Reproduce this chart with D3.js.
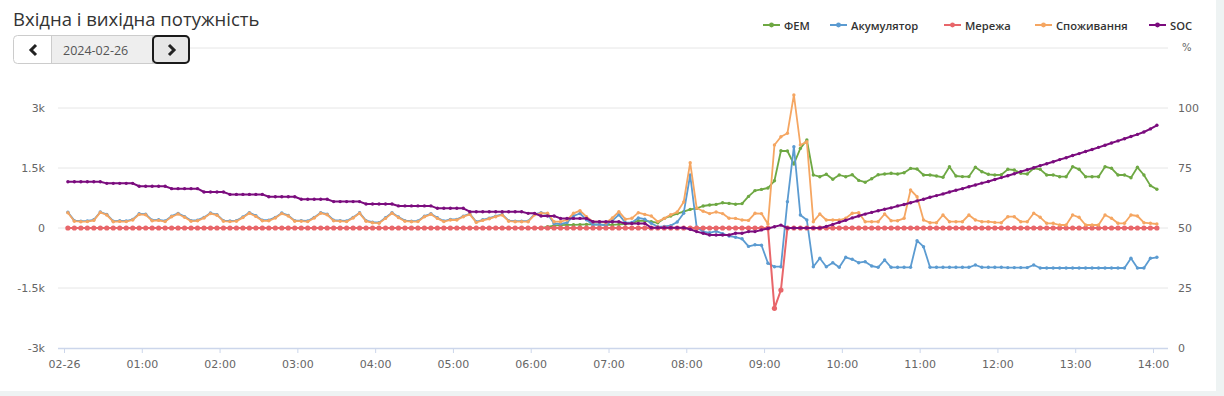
<!DOCTYPE html>
<html>
<head>
<meta charset="utf-8">
<script src="https://cdn.jsdelivr.net/npm/d3@7"></script>
<style>
  html, body { margin: 0; padding: 0; background: #eef3f3; }
  #chart { display: block; }
</style>
</head>
<body>
<svg id="chart" width="1224" height="396"></svg>
<script>
// Вхідна і вихідна потужність — 5-minute samples, 2024-02-26 00:03 .. 14:03

const SERIES_NAMES = ["ФЕМ", "Акумулятор", "Мережа", "Споживання", "SOC"];
const COLORS = ["#6ea843", "#5b9bd1", "#e8666a", "#f5a662", "#7b0c7e"];

// ФЕМ (PV), W
const pv = [
  0,0,0,0,0,0,0,0,0,0,0,0,
  0,0,0,0,0,0,0,0,0,0,0,0,
  0,0,0,0,0,0,0,0,0,0,0,0,
  0,0,0,0,0,0,0,0,0,0,0,0,
  0,0,0,0,0,0,0,0,0,0,0,0,
  0,0,0,0,0,0,0,0,0,0,0,0,
  0,0,30,60,70,80,80,85,90,90,85,80,
  80,90,100,120,180,180,160,130,240,300,360,410,
  465,490,550,575,590,630,615,595,610,790,935,965,
  1000,1180,1930,1925,1600,1990,2200,1325,1283,1342,1217,1325,
  1283,1330,1190,1145,1230,1330,1350,1367,1350,1383,1490,1475,
  1325,1325,1300,1267,1530,1300,1285,1285,1517,1408,1342,1325,
  1330,1467,1450,1367,1350,1492,1467,1325,1325,1283,1283,1533,
  1467,1283,1283,1283,1533,1492,1325,1325,1258,1517,1325,1060,
  967
];

// Акумулятор (battery), W
const battery = [
  395,185,170,175,205,400,340,170,180,175,215,355,
  345,195,205,175,295,365,285,185,195,265,375,335,
  185,175,185,275,385,305,195,195,265,375,315,185,
  185,175,265,385,345,195,185,175,265,380,185,145,
  135,255,380,275,185,170,175,295,355,255,175,215,
  215,295,355,155,205,245,295,340,185,170,170,170,
  345,380,350,113,103,135,302,363,208,83,88,68,
  185,333,135,137,250,220,120,30,40,60,150,370,
  1325,20,-90,-120,-80,-140,-200,-230,-270,-460,-420,-430,
  -880,-967,-967,658,2033,325,200,-967,-758,-967,-867,-983,
  -733,-783,-867,-842,-950,-983,-800,-983,-983,-983,-983,-317,
  -467,-983,-983,-983,-983,-983,-983,-983,-925,-983,-983,-983,
  -983,-990,-990,-990,-990,-925,-1000,-1000,-1000,-1000,-1000,-1000,
  -1000,-1000,-1000,-1000,-1000,-1000,-1000,-1000,-758,-1000,-1000,-758,
  -733
];

// Мережа (grid), W
const grid = [
  0,0,0,0,0,0,0,0,0,0,0,0,
  0,0,0,0,0,0,0,0,0,0,0,0,
  0,0,0,0,0,0,0,0,0,0,0,0,
  0,0,0,0,0,0,0,0,0,0,0,0,
  0,0,0,0,0,0,0,0,0,0,0,0,
  0,0,0,0,0,0,0,0,0,0,0,0,
  0,0,0,0,0,0,0,0,0,0,0,0,
  0,0,0,0,0,0,0,0,0,0,0,0,
  0,0,0,0,0,0,0,0,0,0,0,0,
  0,-2008,-1550,0,0,0,0,0,0,0,0,0,
  0,0,0,0,0,0,0,0,0,0,0,0,
  0,0,0,0,0,0,0,0,0,0,0,0,
  0,0,0,0,0,0,0,0,0,0,0,0,
  0,0,0,0,0,0,0,0,0,0,0,0,
  0
];

// Споживання (load), W
const load = [
  383,170,158,160,190,390,325,158,165,160,200,340,
  330,180,190,160,280,350,270,170,180,250,360,320,
  170,160,170,260,370,290,180,180,250,360,300,170,
  170,160,250,370,330,180,170,160,250,367,170,130,
  120,240,367,260,170,158,160,280,342,240,160,200,
  200,283,342,140,190,230,283,325,170,158,158,158,
  330,367,367,158,158,200,367,433,283,158,158,133,
  250,408,220,242,383,340,300,160,240,330,400,650,
  1633,500,420,360,400,360,245,240,200,190,367,360,
  100,2075,2283,2367,3325,2075,2158,158,350,200,200,200,
  242,367,383,158,158,158,350,183,183,242,950,783,
  200,133,133,325,158,158,158,325,200,158,158,140,
  133,283,283,158,158,367,267,117,117,75,75,325,
  267,75,75,75,325,242,117,117,325,300,133,117,
  100
];

// SOC, %
const soc = [
  69.3,69.3,69.3,69.3,69.3,69.3,68.6,68.6,68.6,68.6,68.6,67.4,
  67.4,67.4,67.4,67.4,66.4,66.4,66.4,66.4,66.4,65,65,65,
  65,64,64,64,64,64,64,63,63,63,63,63,
  62,62,62,62,62,61,61,61,61,61,60,60,
  60,60,60,59.2,59.2,59.2,59.2,59.2,59.2,58.2,58.2,58.2,
  58.2,58.2,56.8,56.8,56.8,56.8,56.8,56.8,56.8,56.8,56.8,56.1,
  56.1,55,55,55,54,54,54,54,54,52.6,52.6,52.6,
  52.6,52.6,51.9,51.9,51.9,51.9,50.1,50.1,50.1,50.1,50.1,50.1,
  49.5,48.5,47.8,47.1,47.1,47.1,47.1,47.8,47.8,48.5,48.5,49.2,
  49.8,50.5,51.2,50,50,50,50,50,50,50.6,51.5,52.4,
  53.2,54.2,55,55.8,56.5,57.2,57.8,58.4,59.2,59.8,60.5,61.3,
  62,62.8,63.5,64.2,65,65.7,66.4,67.2,67.9,68.7,69.4,70.2,
  71,71.8,72.6,73.5,74.3,75.1,76,76.8,77.6,78.5,79.3,80.2,
  81,81.9,82.7,83.6,84.5,85.4,86.3,87.2,88.1,89,90,91.3,
  92.8
];

const powerTicks = [-3000, -1500, 0, 1500, 3000];
const powerTickLabels = ["-3k", "-1.5k", "0", "1.5k", "3k"];
const socTicks = [0, 25, 50, 75, 100];

const DAY = new Date(2024, 1, 26, 0, 0);
const times = soc.map((_, i) => new Date(DAY.getTime() + (i * 5 + 3) * 60000));

const svg = d3.select("#chart");
const FONT = "'DejaVu Sans', Verdana, sans-serif";

// white panel with light page edge
svg.append("rect").attr("x", 0).attr("y", 0).attr("width", 1216).attr("height", 391).attr("fill", "#fff");

const plotL = 58, plotR = 1168, plotT = 48, plotB = 348;
const x = d3.scaleTime().domain([DAY, new Date(2024, 1, 26, 14, 0)]).range([64, 1153]);
const yP = d3.scaleLinear().domain([-3000, 4500]).range([plotB, plotT]);
const yS = d3.scaleLinear().domain([0, 125]).range([plotB, plotT]);

// grid
svg.append("g").selectAll("line")
  .data([4500, 3000, 1500, 0, -1500])
  .enter().append("line")
  .attr("x1", plotL).attr("x2", plotR)
  .attr("y1", d => yP(d)).attr("y2", d => yP(d))
  .attr("stroke", "#e6e6e6").attr("stroke-width", 1);

// x axis
const xAxis = svg.append("g").attr("transform", `translate(0,${plotB})`)
  .call(d3.axisBottom(x)
    .ticks(d3.timeHour.every(1))
    .tickSize(5)
    .tickFormat(d => d.getHours() === 0 ? "02-26" : d3.timeFormat("%H:%M")(d)));
xAxis.select(".domain").remove();
xAxis.selectAll(".tick line").attr("stroke", "#ccd6eb");
xAxis.selectAll(".tick text").attr("fill", "#666").attr("font-family", FONT)
  .attr("font-size", 11).attr("dy", "1.05em");
svg.append("line").attr("x1", plotL).attr("x2", plotR).attr("y1", plotB + 0.5).attr("y2", plotB + 0.5)
  .attr("stroke", "#ccd6eb").attr("stroke-width", 1.5);

// left axis (W)
svg.append("g").selectAll("text")
  .data(powerTicks).enter().append("text")
  .attr("x", 45).attr("y", d => yP(d)).attr("dy", "0.35em")
  .attr("text-anchor", "end").attr("fill", "#666")
  .attr("font-family", FONT).attr("font-size", 11)
  .text((d, i) => powerTickLabels[i]);

// right axis (%)
svg.append("g").selectAll("text")
  .data(socTicks).enter().append("text")
  .attr("x", 1178).attr("y", d => yS(d)).attr("dy", "0.35em")
  .attr("fill", "#666").attr("font-family", FONT).attr("font-size", 11)
  .text(d => d);
svg.append("text").attr("x", 1182).attr("y", 51)
  .attr("fill", "#666").attr("font-family", FONT).attr("font-size", 10).text("%");

// series
const seriesData = [pv, battery, grid, load, soc];
seriesData.forEach((vals, k) => {
  const yy = k === 4 ? yS : yP;
  const pts = vals.map((v, i) => [x(times[i]), yy(v)]);
  const g = svg.append("g");
  g.append("path")
    .attr("d", d3.line()(pts))
    .attr("fill", "none")
    .attr("stroke", COLORS[k])
    .attr("stroke-width", k === 2 || k === 4 ? 2 : 1.8)
    .attr("stroke-linejoin", "round");
  g.selectAll("circle").data(pts).enter().append("circle")
    .attr("cx", d => d[0]).attr("cy", d => d[1])
    .attr("r", k === 2 ? 2.6 : 1.7)
    .attr("fill", COLORS[k]);
});

const LEGEND_X = [763, 830, 944, 1035, 1149];
const legend = svg.append("g");
SERIES_NAMES.forEach((name, k) => {
  const ix = LEGEND_X[k];
  legend.append("line").attr("x1", ix).attr("x2", ix + 17).attr("y1", 25).attr("y2", 25)
    .attr("stroke", COLORS[k]).attr("stroke-width", 2);
  legend.append("circle").attr("cx", ix + 8.5).attr("cy", 25).attr("r", 2.4).attr("fill", COLORS[k]);
  legend.append("text")
    .attr("x", ix + 21).attr("y", 29.5).attr("fill", "#333")
    .attr("font-family", "'Open Sans', sans-serif").attr("font-weight", 600).attr("font-size", 11.2)
    .text(name);
});

// title
svg.append("text").attr("x", 13).attr("y", 26)
  .attr("fill", "#333").attr("font-family", "'Open Sans', sans-serif").attr("font-size", 18.5)
  .text("Вхідна і вихідна потужність");

// date picker
const dp = svg.append("g");
dp.append("rect").attr("x", 13.5).attr("y", 35.5).attr("width", 176).attr("height", 28).attr("rx", 4)
  .attr("fill", "#fff").attr("stroke", "#ccc");
dp.append("rect").attr("x", 51.5).attr("y", 35.5).attr("width", 101).attr("height", 28)
  .attr("fill", "#eee").attr("stroke", "#ccc");
dp.append("rect").attr("x", 153).attr("y", 36).attr("width", 36).attr("height", 27).attr("rx", 4)
  .attr("fill", "#e6e6e6").attr("stroke", "#1a1a1a").attr("stroke-width", 2);
dp.append("path").attr("d", "M36,45 L31,50 L36,55").attr("fill", "none")
  .attr("stroke", "#222").attr("stroke-width", 3);
dp.append("path").attr("d", "M169,45 L174,50 L169,55").attr("fill", "none")
  .attr("stroke", "#222").attr("stroke-width", 3);
dp.append("text").attr("x", 63).attr("y", 54.5)
  .attr("fill", "#555").attr("font-family", "'Open Sans', sans-serif").attr("font-size", 12.5)
  .text("2024-02-26");
</script>
</body>
</html>
